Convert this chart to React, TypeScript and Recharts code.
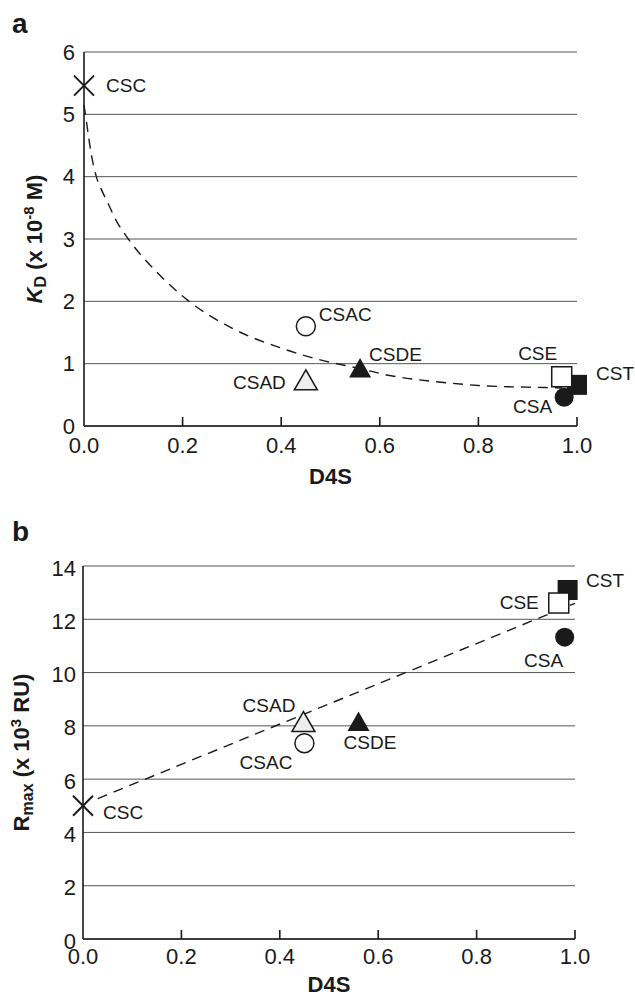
import { ComposedChart, Scatter, Line, XAxis, YAxis, CartesianGrid } from "recharts";

// compounds, in drawing order (later ones sit on top)
const COMPOUNDS = ["CSC", "CSAC", "CSAD", "CSDE", "CST", "CSE", "CSA"];

// panel a: KD (x 10^-8 M) vs D4S
const D4S_A = [0, 0.45, 0.45, 0.56, 1.0, 0.969, 0.974];
const KD = [5.46, 1.6, 0.74, 0.93, 0.66, 0.79, 0.46];

// panel b: Rmax (x 10^3 RU) vs D4S
const D4S_B = [0, 0.45, 0.448, 0.56, 0.985, 0.967, 0.979];
const RMAX = [5.0, 7.35, 8.16, 8.16, 13.1, 12.61, 11.33];

// dashed trend lines
const KD_FIT_X = [0, 0.005, 0.01, 0.015, 0.025, 0.035, 0.05, 0.065, 0.09, 0.15, 0.21, 0.3, 0.4, 0.47, 0.56, 0.62, 0.68, 0.74, 0.8, 0.86, 0.92, 0.97];
const KD_FIT_Y = [5.15, 4.88, 4.6, 4.35, 4.0, 3.8, 3.55, 3.3, 3.0, 2.45, 2.02, 1.57, 1.25, 1.08, 0.92, 0.81, 0.74, 0.69, 0.65, 0.63, 0.62, 0.61];
const RMAX_FIT_X = [0.03, 1.0];
const RMAX_FIT_Y = [5.27, 12.6];

const X_TICKS = [0, 0.2, 0.4, 0.6, 0.8, 1.0];
const KD_TICKS = [0, 1, 2, 3, 4, 5, 6];
const RMAX_TICKS = [0, 2, 4, 6, 8, 10, 12, 14];

const INK = "#1a1a1a";
const GRID = "#555";
const FONT = "'Liberation Sans', Arial, Helvetica, sans-serif";
const TICK_SIZE = 22;

const MARKERS: Record<string, string> = {
  CSC: "cross",
  CSAC: "openCircle",
  CSAD: "openTriangle",
  CSDE: "filledTriangle",
  CST: "filledSquare",
  CSE: "openSquare",
  CSA: "filledCircle",
};

type LabelPos = { dx: number; dy: number; anchor: "start" | "end" | "middle" };

const LABELS_A: Record<string, LabelPos> = {
  CSC: { dx: 22, dy: 6, anchor: "start" },
  CSAC: { dx: 13, dy: -5, anchor: "start" },
  CSAD: { dx: -20, dy: 9, anchor: "end" },
  CSDE: { dx: 9, dy: -7.5, anchor: "start" },
  CSE: { dx: -4.5, dy: -16.5, anchor: "end" },
  CST: { dx: 19, dy: -4.5, anchor: "start" },
  CSA: { dx: -12, dy: 16, anchor: "end" },
};

const LABELS_B: Record<string, LabelPos> = {
  CSC: { dx: 20, dy: 13.5, anchor: "start" },
  CSAC: { dx: -12, dy: 26, anchor: "end" },
  CSAD: { dx: -8, dy: -10, anchor: "end" },
  CSDE: { dx: -15, dy: 27, anchor: "start" },
  CST: { dx: 18.5, dy: -3, anchor: "start" },
  CSE: { dx: -20, dy: 6, anchor: "end" },
  CSA: { dx: -1.5, dy: 29.5, anchor: "end" },
};

const pointsA = COMPOUNDS.map((name, i) => ({ name, x: D4S_A[i], y: KD[i] }));
const pointsB = COMPOUNDS.map((name, i) => ({ name, x: D4S_B[i], y: RMAX[i] }));
const fitA = KD_FIT_X.map((x, i) => ({ x, y: KD_FIT_Y[i] }));
const fitB = RMAX_FIT_X.map((x, i) => ({ x, y: RMAX_FIT_Y[i] }));

function drawMarker(kind: string, cx: number, cy: number) {
  switch (kind) {
    case "cross":
      return (
        <g stroke={INK} strokeWidth={2}>
          <line x1={cx - 10} y1={cy - 10} x2={cx + 10} y2={cy + 10} />
          <line x1={cx - 10} y1={cy + 10} x2={cx + 10} y2={cy - 10} />
        </g>
      );
    case "openCircle":
      return <circle cx={cx} cy={cy} r={9.5} fill="#fff" stroke={INK} strokeWidth={1.5} />;
    case "filledCircle":
      return <circle cx={cx} cy={cy} r={9.5} fill={INK} />;
    case "openTriangle":
      return (
        <polygon
          points={`${cx},${cy - 10} ${cx - 11.5},${cy + 10} ${cx + 11.5},${cy + 10}`}
          fill="#eee"
          stroke={INK}
          strokeWidth={1.5}
        />
      );
    case "filledTriangle":
      return (
        <polygon points={`${cx},${cy - 10} ${cx - 11},${cy + 9.5} ${cx + 11},${cy + 9.5}`} fill={INK} />
      );
    case "openSquare":
      return <rect x={cx - 10} y={cy - 10} width={20} height={20} fill="#fff" stroke={INK} strokeWidth={1.5} />;
    default:
      return <rect x={cx - 10} y={cy - 10} width={20} height={20} fill={INK} />;
  }
}

function pointShape(labels: Record<string, LabelPos>) {
  return (props: any) => {
    const { cx, cy, payload } = props;
    const lp = labels[payload.name];
    return (
      <g>
        {drawMarker(MARKERS[payload.name], cx, cy)}
        <text
          x={cx + lp.dx}
          y={cy + lp.dy}
          textAnchor={lp.anchor}
          fontSize={19}
          fontFamily={FONT}
          fill={INK}
        >
          {payload.name}
        </text>
      </g>
    );
  };
}

function xTick(base: number) {
  return (props: any) => {
    const { x, y, payload } = props;
    return (
      <g>
        {payload.value > 0 && <line x1={x} x2={x} y1={y} y2={y - 9} stroke={INK} strokeWidth={1.6} />}
        <text x={x} y={y + base} textAnchor="middle" fontSize={TICK_SIZE} fontFamily={FONT} fill={INK}>
          {Number(payload.value).toFixed(1)}
        </text>
      </g>
    );
  };
}

function yTick(gap: number, base: number) {
  return (props: any) => {
    const { x, y, payload } = props;
    return (
      <text x={x - gap} y={y + base} textAnchor="end" fontSize={TICK_SIZE} fontFamily={FONT} fill={INK}>
        {payload.value}
      </text>
    );
  };
}

function xTitle(base: number) {
  return (props: any) => {
    const vb = props.viewBox;
    return (
      <text
        x={vb.x + vb.width / 2}
        y={vb.y + base}
        textAnchor="middle"
        fontSize={22}
        fontWeight="bold"
        fontFamily={FONT}
        fill={INK}
      >
        D4S
      </text>
    );
  };
}

function kdTitle(props: any) {
  const vb = props.viewBox;
  const cy = vb.y + vb.height / 2;
  const x = 42;
  return (
    <g>
      <text x={12} y={33} fontSize={28} fontWeight="bold" fontFamily={FONT} fill={INK}>
        a
      </text>
      <text
        x={x}
        y={cy}
        transform={`rotate(-90, ${x}, ${cy})`}
        textAnchor="middle"
        fontSize={22}
        fontWeight="bold"
        fontFamily={FONT}
        fill={INK}
      >
        <tspan fontStyle="italic">K</tspan>
        <tspan fontSize={16} dy={4}>D</tspan>
        <tspan dy={-4}> (x 10</tspan>
        <tspan fontSize={15} dy={-8}>-8</tspan>
        <tspan dy={8}> M)</tspan>
      </text>
    </g>
  );
}

function rmaxTitle(props: any) {
  const vb = props.viewBox;
  const cy = vb.y + vb.height / 2;
  const x = 29;
  return (
    <g>
      <text x={12} y={49} fontSize={28} fontWeight="bold" fontFamily={FONT} fill={INK}>
        b
      </text>
      <text
        x={x}
        y={cy}
        transform={`rotate(-90, ${x}, ${cy})`}
        textAnchor="middle"
        fontSize={22}
        fontWeight="bold"
        fontFamily={FONT}
        fill={INK}
      >
        <tspan>R</tspan>
        <tspan fontSize={16} dy={4}>max</tspan>
        <tspan dy={-4}> (x 10</tspan>
        <tspan fontSize={15} dy={-8}>3</tspan>
        <tspan dy={8}> RU)</tspan>
      </text>
    </g>
  );
}

export default function App() {
  return (
    <div style={{ position: "absolute", left: 0, top: 0, width: 635, background: "#fff" }}>
      <ComposedChart width={635} height={492} margin={{ top: 52, right: 58, bottom: 0, left: 0 }}>
        <CartesianGrid vertical={false} stroke={GRID} strokeWidth={1} />
        <XAxis
          type="number"
          dataKey="x"
          domain={[0, 1]}
          ticks={X_TICKS}
          height={66}
          tickSize={0}
          tickMargin={0}
          tickLine={false}
          axisLine={{ stroke: INK, strokeWidth: 1.6 }}
          tick={xTick(27)}
          label={{ content: xTitle(58) }}
        />
        <YAxis
          type="number"
          dataKey="y"
          domain={[0, 6]}
          ticks={KD_TICKS}
          width={84}
          tickSize={0}
          tickMargin={0}
          tickLine={false}
          axisLine={{ stroke: INK, strokeWidth: 1.6 }}
          tick={yTick(9, 7.5)}
          label={{ content: kdTitle }}
        />
        <Line
          data={fitA}
          dataKey="y"
          type="monotone"
          stroke={INK}
          strokeWidth={1.4}
          strokeDasharray="10 7"
          dot={false}
          activeDot={false}
          isAnimationActive={false}
        />
        <Scatter data={pointsA} dataKey="y" shape={pointShape(LABELS_A)} isAnimationActive={false} />
      </ComposedChart>
      <ComposedChart width={635} height={506} margin={{ top: 74, right: 60, bottom: 0, left: 0 }}>
        <CartesianGrid vertical={false} stroke={GRID} strokeWidth={1} />
        <XAxis
          type="number"
          dataKey="x"
          domain={[0, 1]}
          ticks={X_TICKS}
          height={59}
          tickSize={0}
          tickMargin={0}
          tickLine={false}
          axisLine={{ stroke: INK, strokeWidth: 1.6 }}
          tick={xTick(25)}
          label={{ content: xTitle(53) }}
        />
        <YAxis
          type="number"
          dataKey="y"
          domain={[0, 14]}
          ticks={RMAX_TICKS}
          width={83}
          tickSize={0}
          tickMargin={0}
          tickLine={false}
          axisLine={{ stroke: INK, strokeWidth: 1.6 }}
          tick={yTick(7, 9.5)}
          label={{ content: rmaxTitle }}
        />
        <Line
          data={fitB}
          dataKey="y"
          type="linear"
          stroke={INK}
          strokeWidth={1.4}
          strokeDasharray="10 7"
          dot={false}
          activeDot={false}
          isAnimationActive={false}
        />
        <Scatter data={pointsB} dataKey="y" shape={pointShape(LABELS_B)} isAnimationActive={false} />
      </ComposedChart>
    </div>
  );
}
